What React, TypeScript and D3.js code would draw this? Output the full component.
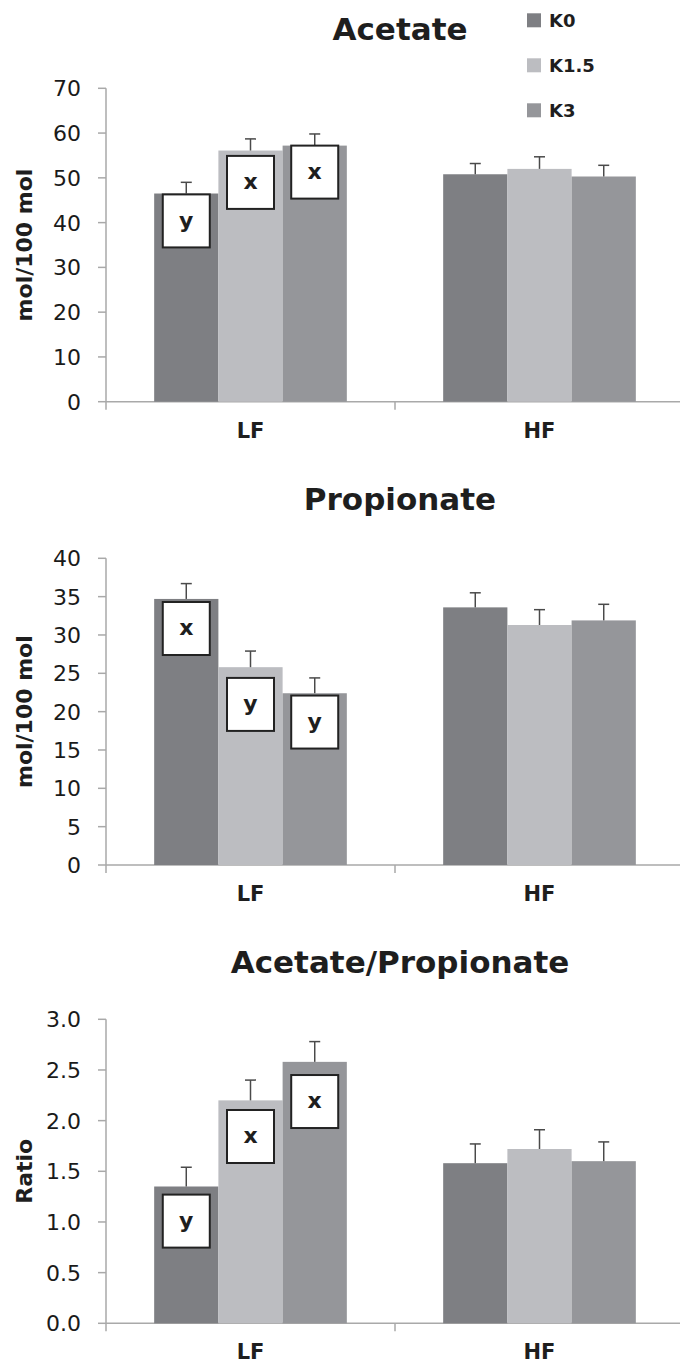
import React, { useEffect, useRef } from 'react'
import * as d3 from 'd3'

const groups = ['LF', 'HF']
const series = ['K0', 'K1.5', 'K3']
const colors = ['#7e7f83', '#bcbdc1', '#95969a']

// Acetate (mol/100 mol), rows = LF, HF
const acetate = [
    [46.5, 56.1, 57.2],
    [50.8, 52.0, 50.3],
]
const acetateErr = [
    [2.5, 2.6, 2.6],
    [2.4, 2.7, 2.5],
]
const acetateLetters = ['y', 'x', 'x']
const acetateLetterAt = [46.3, 54.9, 57.2]

// Propionate (mol/100 mol)
const propionate = [
    [34.7, 25.8, 22.4],
    [33.6, 31.3, 31.9],
]
const propionateErr = [
    [2.0, 2.1, 2.0],
    [1.9, 2.0, 2.1],
]
const propionateLetters = ['x', 'y', 'y']
const propionateLetterAt = [34.3, 24.4, 22.1]

// Acetate/Propionate ratio
const ratio = [
    [1.35, 2.2, 2.58],
    [1.58, 1.72, 1.6],
]
const ratioErr = [
    [0.19, 0.2, 0.2],
    [0.19, 0.19, 0.19],
]
const ratioLetters = ['y', 'x', 'x']
const ratioLetterAt = [1.27, 2.105, 2.45]

const acetateTicks = [0, 10, 20, 30, 40, 50, 60, 70]
const propionateTicks = [0, 5, 10, 15, 20, 25, 30, 35, 40]
const ratioTicks = [0, 0.5, 1, 1.5, 2, 2.5, 3]

const panels = [
    {
        title: 'Acetate', yLabel: 'mol/100 mol', values: acetate, errs: acetateErr,
        letters: acetateLetters, letterAt: acetateLetterAt, ticks: acetateTicks, fmt: d3.format('d'),
        titleY: 39.5, top: 88.3, bottom: 401.7,
    },
    {
        title: 'Propionate', yLabel: 'mol/100 mol', values: propionate, errs: propionateErr,
        letters: propionateLetters, letterAt: propionateLetterAt, ticks: propionateTicks, fmt: d3.format('d'),
        titleY: 509.7, top: 558.3, bottom: 865,
    },
    {
        title: 'Acetate/Propionate', yLabel: 'Ratio', values: ratio, errs: ratioErr,
        letters: ratioLetters, letterAt: ratioLetterAt, ticks: ratioTicks, fmt: d3.format('.1f'),
        titleY: 972.7, top: 1019.3, bottom: 1323.3,
    },
]

const font = '"DejaVu Sans", sans-serif'
const axisColor = '#a9a9a9'

export default function App() {
    const svgRef = useRef<SVGSVGElement>(null)

    useEffect(() => {
        const svg = d3.select(svgRef.current)
        svg.selectAll('*').remove()

        const x0 = d3.scaleBand().domain(groups).range([106, 684])
        const x1 = d3.scaleBand().domain(series).range([0, x0.bandwidth()]).paddingOuter(0.75)

        panels.forEach((p) => {
            const max = p.ticks[p.ticks.length - 1]
            const y = d3.scaleLinear().domain([0, max]).range([p.bottom, p.top])
            const g = svg.append('g')

            g.append('text')
                .attr('x', 400)
                .attr('y', p.titleY)
                .attr('text-anchor', 'middle')
                .style('font', `bold 31px ${font}`)
                .attr('fill', '#1e1e1e')
                .text(p.title)

            // y axis
            g.append('line')
                .attr('x1', 106).attr('x2', 106)
                .attr('y1', p.top).attr('y2', p.bottom + 8)
                .attr('stroke', axisColor).attr('stroke-width', 1.5)
            p.ticks.forEach((t) => {
                g.append('line')
                    .attr('x1', 98).attr('x2', 106)
                    .attr('y1', y(t)).attr('y2', y(t))
                    .attr('stroke', axisColor).attr('stroke-width', 1.5)
                g.append('text')
                    .attr('x', 81)
                    .attr('y', y(t))
                    .attr('dy', '0.36em')
                    .attr('text-anchor', 'end')
                    .style('font', `22px ${font}`)
                    .attr('fill', '#1a1a1a')
                    .text(p.fmt(t))
            })

            // x axis
            g.append('line')
                .attr('x1', 106).attr('x2', 684)
                .attr('y1', p.bottom).attr('y2', p.bottom)
                .attr('stroke', axisColor).attr('stroke-width', 1.5)
            g.append('line')
                .attr('x1', x0('HF')!).attr('x2', x0('HF')!)
                .attr('y1', p.bottom).attr('y2', p.bottom + 8)
                .attr('stroke', axisColor).attr('stroke-width', 1.5)
            groups.forEach((grp) => {
                g.append('text')
                    .attr('x', x0(grp)! + x0.bandwidth() / 2)
                    .attr('y', p.bottom + 36)
                    .attr('text-anchor', 'middle')
                    .style('font', `bold 21px ${font}`)
                    .attr('fill', '#1e1e1e')
                    .text(grp)
            })

            g.append('text')
                .attr('transform', `translate(32, ${(p.top + p.bottom) / 2}) rotate(-90)`)
                .attr('text-anchor', 'middle')
                .style('font', `bold 22px ${font}`)
                .attr('fill', '#1e1e1e')
                .text(p.yLabel)

            // bars + error bars
            groups.forEach((grp, gi) => {
                series.forEach((s, si) => {
                    const v = p.values[gi][si]
                    const e = p.errs[gi][si]
                    const bx = x0(grp)! + x1(s)!
                    const cx = bx + x1.bandwidth() / 2
                    g.append('rect')
                        .attr('x', bx)
                        .attr('y', y(v))
                        .attr('width', x1.bandwidth())
                        .attr('height', p.bottom - y(v))
                        .attr('fill', colors[si])
                    g.append('line')
                        .attr('x1', cx).attr('x2', cx)
                        .attr('y1', y(v)).attr('y2', y(v + e))
                        .attr('stroke', '#4a4a4a').attr('stroke-width', 1.5)
                    g.append('line')
                        .attr('x1', cx - 5.5).attr('x2', cx + 5.5)
                        .attr('y1', y(v + e)).attr('y2', y(v + e))
                        .attr('stroke', '#4a4a4a').attr('stroke-width', 1.5)
                })
            })

            // significance letters (LF only)
            series.forEach((s, si) => {
                const cx = x0('LF')! + x1(s)! + x1.bandwidth() / 2
                const ty = y(p.letterAt[si])
                g.append('rect')
                    .attr('x', cx - 23.5)
                    .attr('y', ty)
                    .attr('width', 47)
                    .attr('height', 53)
                    .attr('fill', '#fff')
                    .attr('stroke', '#222')
                    .attr('stroke-width', 2)
                g.append('text')
                    .attr('x', cx)
                    .attr('y', ty + 26.5)
                    .attr('dy', '0.3em')
                    .attr('text-anchor', 'middle')
                    .style('font', `bold 22px ${font}`)
                    .attr('fill', '#1e1e1e')
                    .text(p.letters[si])
            })
        })

        // legend
        const legend = svg.append('g')
        series.forEach((s, i) => {
            legend.append('rect')
                .attr('x', 527)
                .attr('y', 13.3 + i * 45)
                .attr('width', 14)
                .attr('height', 14)
                .attr('fill', colors[i])
            legend.append('text')
                .attr('x', 549)
                .attr('y', 27.3 + i * 45)
                .style('font', `bold 18px ${font}`)
                .attr('fill', '#1e1e1e')
                .text(s)
        })
    }, [])

    return (
        <svg
            ref={svgRef}
            width={680}
            height={1364}
            style={{ position: 'absolute', left: 0, top: 0, background: '#fff' }}
        />
    )
}
